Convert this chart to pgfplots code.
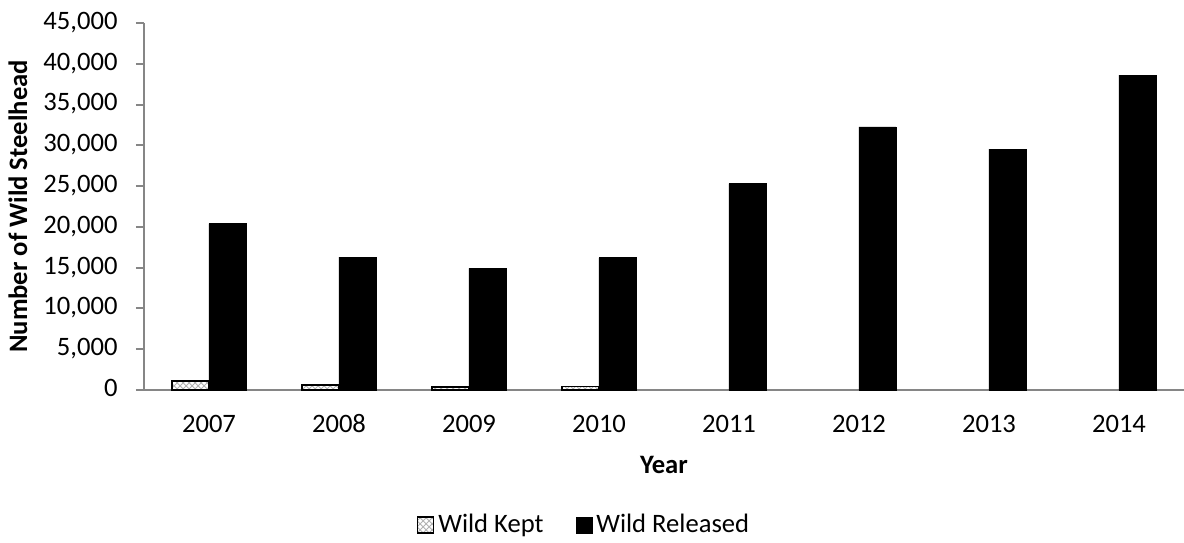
\documentclass[border=0pt]{standalone}
\usepackage{pgfplots}
\pgfplotsset{compat=1.18}
\usetikzlibrary{patterns}
\usepackage{fontspec}
\setmainfont{Carlito}
\definecolor{axgray}{RGB}{134,134,134}
\newcommand{\chfont}{\fontsize{13.3}{16}\selectfont}
\begin{document}
\chfont
\begin{tikzpicture}[font=\chfont]
\path[use as bounding box] (-72pt,-76pt) rectangle (520pt,195pt);
\begin{axis}[
  at={(0,0)}, anchor=south west,
  scale only axis, width=520pt, height=183.5pt,
  ybar=0pt, bar width=18.5pt,
  xmin=-0.5, xmax=7.5, ymin=0, ymax=45000,
  axis x line=bottom, axis y line=left,
  axis line style={-, axgray, line width=1pt},
  tick align=outside,
  major tick length=4pt, minor tick length=4pt,
  xtick={0,...,7},
  xticklabels={2007,2008,2009,2010,2011,2012,2013,2014},
  xtick style={draw=none},
  minor xtick={-0.5,0.5,...,7.5},
  minor x tick style={axgray, line width=1pt},
  ytick={0,5000,...,45000},
  ytick style={axgray, line width=1pt},
  scaled y ticks=false,
  typeset ticklabels with strut,
  /pgf/number format/assume math mode=true,
  /pgf/number format/fixed,
  /pgf/number format/1000 sep={,},
  tick label style={font=\chfont},
  label style={font=\chfont\bfseries},
  yticklabel style={xshift=-4.6pt},
  xticklabel style={yshift=-1.5pt},
  xlabel={Year},
  ylabel={Number of Wild Steelhead},
  xlabel style={yshift=2pt},
  ylabel style={yshift=-1pt},
  legend style={at={(0.424,-0.368)}, anchor=center, draw=none,
    legend columns=-1, /tikz/every even column/.append style={column sep=14pt},
    font=\chfont},
  legend image code/.code={\draw[#1] (0pt,-4pt) rectangle (8pt,4pt);},
]
\addplot[draw=black, line width=0.8pt, fill=white, postaction={pattern=crosshatch, pattern color=gray!60}]
  coordinates {(0,1140) (1,610) (2,400) (3,450)};
\addplot[draw=black, fill=black]
  coordinates {(0,20400) (1,16300) (2,14900) (3,16200) (4,25300) (5,32250) (6,29550) (7,38600)};
\legend{Wild Kept, Wild Released}
\end{axis}
\end{tikzpicture}
\end{document}
